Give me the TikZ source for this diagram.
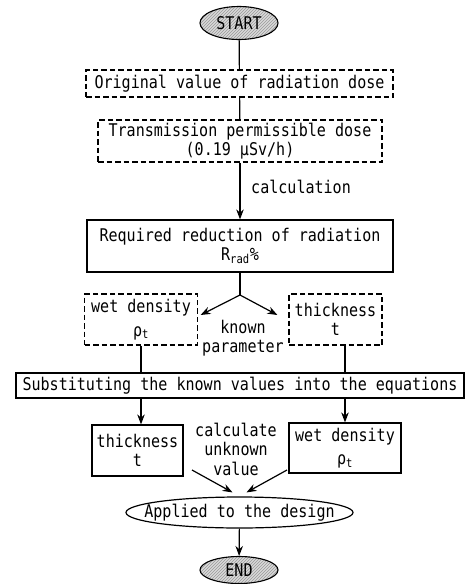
\documentclass[tikz,border=0pt]{standalone}
\usepackage{fontspec}
\setmainfont[FakeStretch=0.86]{DejaVu Sans Mono}
\usetikzlibrary{arrows.meta,shapes.geometric,patterns}

\newlength{\du}
\setlength{\du}{1pt}

\tikzset{
  solidbox/.style={draw, line width=1.2\du, inner sep=0pt, align=center},
  dashbox/.style={solidbox, dash pattern=on 5.5pt off 3pt},
  termnode/.style={ellipse, draw, line width=1.1\du, inner sep=0pt,
    preaction={fill=gray!30}, pattern=north east lines, pattern color=gray!80},
  designnode/.style={ellipse, draw, line width=1.2\du, inner sep=0pt},
  flowline/.style={line width=1.2\du},
  flowarrow/.style={flowline, -{Stealth[length=10pt,width=7.5pt]}}
}

\begin{document}
\begin{tikzpicture}[x=\du, y=-\du, font=\fontsize{17.5}{19.5}\selectfont]
\useasboundingbox (0,0) rectangle (465,584);
% terminals and boxes
\node[termnode, minimum width=78\du, minimum height=33\du] (start) at (239,23) {\hbox to 0pt{\hss START\hss}};
\node[dashbox, minimum width=307\du, minimum height=27\du] (orig) at (239.5,83.5) {Original value of radiation dose};
\node[dashbox, minimum width=284\du, minimum height=42\du] (trans) at (240,141) {Transmission permissible dose\\(0.19 μSv/h)};
\node[anchor=west, inner sep=0pt] (calclbl) at (251,187) {calculation};
\node[solidbox, minimum width=306\du, minimum height=52\du] (rrad) at (240,246) {Required reduction of radiation\\R\textsubscript{rad}\%};
\coordinate (fork) at (240,295);
\node[dashbox, minimum width=113\du, minimum height=51\du] (wet1) at (141,319.5) {wet density\\[4pt]ρ\textsubscript{t}};
\node[dashbox, minimum width=93\du, minimum height=51\du] (thick1) at (335.5,319.5) {thickness\\t};
\node[align=center, inner sep=0pt] (known) at (243,338) {known\\parameter};
\node[solidbox, minimum width=448\du, minimum height=25\du] (subst) at (240,385.5) {Substituting the known values into the equations};
\node[solidbox, minimum width=91\du, minimum height=51\du] (thick2) at (137.5,450.5) {thickness\\t};
\node[solidbox, minimum width=112\du, minimum height=50\du] (wet2) at (345,448) {wet density\\[4pt]ρ\textsubscript{t}};
\node[align=center, inner sep=0pt] (calc) at (236,449) {calculate\\unknown\\value};
\node[designnode, minimum width=227\du, minimum height=31\du] (design) at (239.5,512.5) {\hbox to 0pt{\hss Applied to the design\hss}};
\node[termnode, minimum width=78\du, minimum height=27\du] (end) at (239,570) {\hbox to 0pt{\hss END\hss}};
% connectors
\draw[flowline] (start) -- (orig);
\draw[flowline] (orig) -- (trans);
\draw[flowarrow] (trans) -- (rrad);
\draw[flowline] (rrad) -- (fork);
\draw[flowarrow] (fork) -- ([xshift=2.5pt,yshift=4.5pt]wet1.east);
\draw[flowarrow] (fork) -- ([xshift=-11pt,yshift=4.5pt]thick1.west);
\draw[flowline] (wet1) -- (wet1 |- subst.north);
\draw[flowline] (thick1.south -| wet2) -- (subst.north -| wet2);
\draw[flowarrow] (subst.south -| wet1) -- (thick2.north -| wet1);
\draw[flowarrow] (subst.south -| wet2) -- (wet2);
\coordinate (cl) at (192,470);
\coordinate (cr) at (287,470);
\draw[flowarrow] (cl) -- ([xshift=-7pt,yshift=4pt]design.north);
\draw[flowarrow] (cr) -- ([xshift=7pt,yshift=4pt]design.north);
\draw[flowarrow] (design) -- (end);
\end{tikzpicture}
\end{document}
